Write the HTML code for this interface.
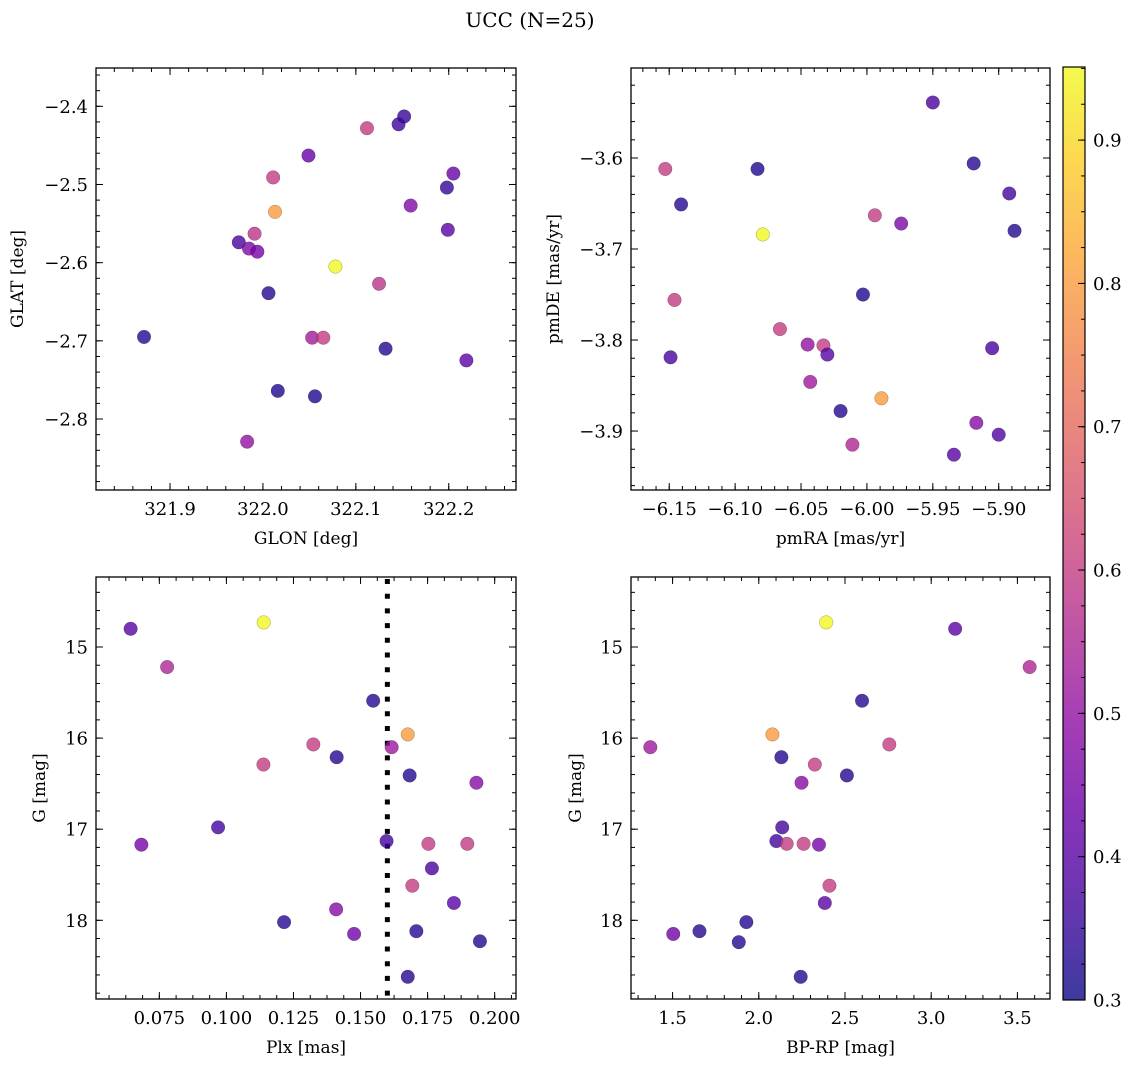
<!DOCTYPE html>
<html><head><meta charset="utf-8">
<style>
html,body{margin:0;padding:0;background:#fff;}
svg{display:block;font-family:"DejaVu Serif","Liberation Serif",serif;}
</style></head>
<body>
<svg id="fig" width="1136" height="1067" viewBox="0 0 1136 1067" xmlns="http://www.w3.org/2000/svg">
<text x="530" y="27" font-size="20" text-anchor="middle">UCC (N=25)</text>
<defs>
<linearGradient id="cbgrad" x1="0" y1="1" x2="0" y2="0"></linearGradient>
</defs>
</svg>
<script>
// ---- Panel 1: GLON / GLAT ----
const glon = [321.872,321.974,321.985,321.994,321.991,322.011,322.013,322.006,322.049,322.016,322.056,321.983,322.053,322.065,322.078,322.112,322.125,322.132,322.146,322.152,322.159,322.198,322.205,322.199,322.219];
const glat = [-2.695,-2.574,-2.582,-2.586,-2.563,-2.491,-2.535,-2.639,-2.463,-2.764,-2.771,-2.829,-2.696,-2.696,-2.605,-2.428,-2.627,-2.710,-2.423,-2.413,-2.527,-2.504,-2.486,-2.558,-2.725];
const prob1 = [0.33,0.38,0.47,0.45,0.58,0.60,0.80,0.33,0.42,0.32,0.32,0.50,0.53,0.60,0.95,0.60,0.58,0.33,0.36,0.35,0.47,0.35,0.42,0.40,0.41];
// ---- Panel 2: pmRA / pmDE ----
const pmra = [-5.950,-6.153,-6.083,-5.919,-6.141,-5.892,-5.994,-5.974,-5.888,-6.079,-6.003,-6.146,-6.066,-6.045,-6.033,-6.030,-6.149,-5.905,-6.043,-5.989,-6.020,-5.917,-5.900,-6.011,-5.934];
const pmde = [-3.539,-3.612,-3.612,-3.606,-3.651,-3.639,-3.663,-3.672,-3.680,-3.684,-3.750,-3.756,-3.788,-3.805,-3.806,-3.816,-3.819,-3.809,-3.846,-3.864,-3.878,-3.891,-3.904,-3.915,-3.926];
const prob2 = [0.38,0.60,0.32,0.33,0.33,0.37,0.60,0.46,0.33,0.95,0.32,0.60,0.60,0.50,0.60,0.40,0.38,0.38,0.52,0.80,0.33,0.48,0.39,0.55,0.40];
// ---- Panel 3: Plx / G ----
const plx = [0.0643,0.1139,0.0779,0.1547,0.1676,0.1324,0.1616,0.1411,0.1138,0.1683,0.1932,0.0969,0.0683,0.1597,0.1753,0.1898,0.1766,0.1693,0.1848,0.1409,0.1215,0.1708,0.1476,0.1945,0.1676];
const gmag3 = [14.80,14.73,15.22,15.59,15.96,16.07,16.10,16.21,16.29,16.41,16.49,16.98,17.17,17.13,17.16,17.16,17.43,17.62,17.81,17.88,18.02,18.12,18.15,18.23,18.62];
const prob3 = [0.40,0.95,0.55,0.33,0.80,0.60,0.52,0.33,0.60,0.33,0.48,0.37,0.45,0.37,0.60,0.60,0.38,0.60,0.40,0.48,0.33,0.33,0.44,0.33,0.33];
const plxCut = [0.16];
// ---- Panel 4: BP-RP / G ----
const bprp = [2.391,3.139,3.571,2.599,2.079,1.371,2.757,2.131,2.325,2.511,2.248,2.136,2.102,2.162,2.260,2.349,2.410,2.383,1.928,1.504,1.656,1.884,2.243];
const gmag4 = [14.73,14.80,15.22,15.59,15.96,16.10,16.07,16.21,16.29,16.41,16.49,16.98,17.13,17.16,17.16,17.17,17.62,17.81,18.02,18.15,18.12,18.24,18.62];
const prob4 = [0.95,0.40,0.55,0.33,0.80,0.52,0.60,0.33,0.60,0.33,0.48,0.37,0.37,0.60,0.60,0.45,0.60,0.40,0.33,0.44,0.33,0.33,0.33];
// tick labels
const ticks1x = [321.9,322.0,322.1,322.2], ticks1xLab = ["321.9","322.0","322.1","322.2"];
const ticks1y = [-2.4,-2.5,-2.6,-2.7,-2.8], ticks1yLab = ["−2.4","−2.5","−2.6","−2.7","−2.8"];
const ticks2x = [-6.15,-6.10,-6.05,-6.00,-5.95,-5.90], ticks2xLab = ["−6.15","−6.10","−6.05","−6.00","−5.95","−5.90"];
const ticks2y = [-3.6,-3.7,-3.8,-3.9], ticks2yLab = ["−3.6","−3.7","−3.8","−3.9"];
const ticks3x = [0.075,0.100,0.125,0.150,0.175,0.200], ticks3xLab = ["0.075","0.100","0.125","0.150","0.175","0.200"];
const ticksGy = [15,16,17,18], ticksGyLab = ["15","16","17","18"];
const ticks4x = [1.5,2.0,2.5,3.0,3.5], ticks4xLab = ["1.5","2.0","2.5","3.0","3.5"];
const cbTicks = [0.3,0.4,0.5,0.6,0.7,0.8,0.9], cbTickLab = ["0.3","0.4","0.5","0.6","0.7","0.8","0.9"];
const cbRange = [0.3,0.951];

const NS = "http://www.w3.org/2000/svg";
const svg = document.getElementById("fig");
const TFS = 18, LFS = 17;
function mk(tag, attrs, parent){
  const e = document.createElementNS(NS, tag);
  for (const k in attrs) e.setAttribute(k, attrs[k]);
  (parent||svg).appendChild(e);
  return e;
}
const plasma = [[13,8,135],[65,4,157],[106,0,168],[143,13,164],[177,42,144],[204,71,120],[225,100,98],[242,132,75],[252,166,54],[252,206,37],[240,249,33]];
function cmap(p){
  let t = (p - cbRange[0])/(cbRange[1]-cbRange[0]);
  t = Math.max(0, Math.min(1, t));
  const f = t*10, i = Math.min(9, Math.floor(f)), r = f - i;
  const a = plasma[i], b = plasma[i+1];
  return "rgb(" + [0,1,2].map(k => Math.round(a[k]+(b[k]-a[k])*r)).join(",") + ")";
}
function rng(a,b,s){ const out=[]; const n=Math.round((b-a)/s); for(let i=0;i<=n;i++) out.push(a+i*s); return out; }

function panel(cfg){
  const {x0,y0,x1,y1,xlim,ylim,yinv} = cfg;
  const sx = v => x0 + (v - xlim[0])/(xlim[1]-xlim[0])*(x1-x0);
  const sy = yinv ? (v => y0 + (v - ylim[0])/(ylim[1]-ylim[0])*(y1-y0))
                  : (v => y1 - (v - ylim[0])/(ylim[1]-ylim[0])*(y1-y0));
  const g = mk("g", {});
  
  
  if (cfg.vline) {
    cfg.vline.forEach(v => {
      const l = mk("line", {x1:sx(v), x2:sx(v), y1:y0+2, y2:y1, stroke:"#000", "stroke-width":5, "stroke-dasharray":"5 9.7"}, g);
      
      
    });
  }
  const pts = mk("g", {}, g);
  
  
  cfg.xs.forEach((xv, i) => {
    const c = mk("circle", {cx:sx(xv), cy:sy(cfg.ys[i]), r:6.8, fill:cmap(cfg.ps[i]), "fill-opacity":0.8, stroke:"rgba(0,0,0,0.35)", "stroke-width":0.5}, pts);
    
    
  });
  const fr = mk("rect", {x:x0, y:y0, width:x1-x0, height:y1-y0, fill:"none", stroke:"#000", "stroke-width":1.3}, g);
  
  
  const tk = mk("g", {stroke:"#000", "stroke-width":1}, g);
  
  
  cfg.xminor.forEach(v => { const X = sx(v); if (X<x0+0.5||X>x1-0.5) return;
    mk("line",{x1:X,x2:X,y1:y1,y2:y1-4},tk); mk("line",{x1:X,x2:X,y1:y0,y2:y0+4},tk); });
  cfg.yminor.forEach(v => { const Y = sy(v); if (Y<y0+0.5||Y>y1-0.5) return;
    mk("line",{x1:x0,x2:x0+4,y1:Y,y2:Y},tk); mk("line",{x1:x1,x2:x1-4,y1:Y,y2:Y},tk); });
  cfg.xt.forEach((v,i) => { const X = sx(v);
    mk("line",{x1:X,x2:X,y1:y1,y2:y1-7},tk); mk("line",{x1:X,x2:X,y1:y0,y2:y0+7},tk);
    const t = mk("text",{x:X, y:y1+25, "font-size":TFS, "text-anchor":"middle"}, g);
    t.textContent = cfg.xtl[i];
    
    
  });
  cfg.yt.forEach((v,i) => { const Y = sy(v);
    mk("line",{x1:x0,x2:x0+7,y1:Y,y2:Y},tk); mk("line",{x1:x1,x2:x1-7,y1:Y,y2:Y},tk);
    const t = mk("text",{x:x0-8, y:Y+6.5, "font-size":TFS, "text-anchor":"end"}, g);
    t.textContent = cfg.ytl[i];
    
    
  });
  const xl = mk("text",{x:(x0+x1)/2, y:y1+54, "font-size":LFS, "text-anchor":"middle"}, g);
  xl.textContent = cfg.xlabel;
  
  
  const yl = mk("text",{x:0, y:0, "font-size":LFS, "text-anchor":"middle", transform:"translate("+cfg.ylx+","+((y0+y1)/2)+") rotate(-90)"}, g);
  yl.textContent = cfg.ylabel;
  
  
}

panel({name:"glon-glat-panel", x0:96,y0:68,x1:516,y1:490, xlim:[321.8203,322.2724], ylim:[-2.8908,-2.351],
  xs:glon, ys:glat, ps:prob1, xt:ticks1x, xtl:ticks1xLab, yt:ticks1y, ytl:ticks1yLab,
  xminor:rng(321.82,322.28,0.02), yminor:rng(-2.88,-2.36,0.02), xlabel:"GLON [deg]", ylabel:"GLAT [deg]", ylx:23});
panel({name:"pm-panel", x0:631,y0:68,x1:1050,y1:490, xlim:[-6.179,-5.8611], ylim:[-3.9648,-3.5011],
  xs:pmra, ys:pmde, ps:prob2, xt:ticks2x, xtl:ticks2xLab, yt:ticks2y, ytl:ticks2yLab,
  xminor:rng(-6.17,-5.87,0.01), yminor:rng(-3.96,-3.52,0.02), xlabel:"pmRA [mas/yr]", ylabel:"pmDE [mas/yr]", ylx:559});
panel({name:"plx-g-panel", x0:96,y0:577,x1:516,y1:999, xlim:[0.05139,0.20795], ylim:[14.2316,18.8639], yinv:true,
  xs:plx, ys:gmag3, ps:prob3, xt:ticks3x, xtl:ticks3xLab, yt:ticksGy, ytl:ticksGyLab, vline:plxCut,
  xminor:rng(0.05625,0.20625,0.00625), yminor:rng(14.4,18.8,0.2), xlabel:"Plx [mas]", ylabel:"G [mag]", ylx:45});
panel({name:"cmd-panel", x0:631,y0:577,x1:1050,y1:999, xlim:[1.2589,3.689], ylim:[14.2316,18.8639], yinv:true,
  xs:bprp, ys:gmag4, ps:prob4, xt:ticks4x, xtl:ticks4xLab, yt:ticksGy, ytl:ticksGyLab,
  xminor:rng(1.3,3.6,0.1), yminor:rng(14.4,18.8,0.2), xlabel:"BP-RP [mag]", ylabel:"G [mag]", ylx:581});

// colorbar
const grad = document.getElementById("cbgrad");
for (let i=0;i<=20;i++){
  const p = cbRange[0] + (cbRange[1]-cbRange[0])*i/20;
  mk("stop",{offset:(i/20), "stop-color":cmap(p), "stop-opacity":0.8}, grad);
}
const cbx0=1063, cbx1=1085, cby0=67, cby1=1000;
const cy = v => cby1 - (v-cbRange[0])/(cbRange[1]-cbRange[0])*(cby1-cby0);
const cb = mk("g",{});


mk("rect",{x:cbx0,y:cby0,width:cbx1-cbx0,height:cby1-cby0,fill:"url(#cbgrad)",stroke:"#000","stroke-width":1.2},cb);
rng(0.3,0.95,0.025).forEach(v => { if (v>cbRange[1]) return; const Y=cy(v);
  mk("line",{x1:cbx1,x2:cbx1-4,y1:Y,y2:Y,stroke:"#000","stroke-width":1},cb); });
cbTicks.forEach((v,i) => { const Y=cy(v);
  mk("line",{x1:cbx1,x2:cbx1-7,y1:Y,y2:Y,stroke:"#000","stroke-width":1},cb);
  const t = mk("text",{x:cbx1+8,y:Y+6.5,"font-size":TFS},cb);
  t.textContent = cbTickLab[i];
  
  
});
</script>
</body></html>
